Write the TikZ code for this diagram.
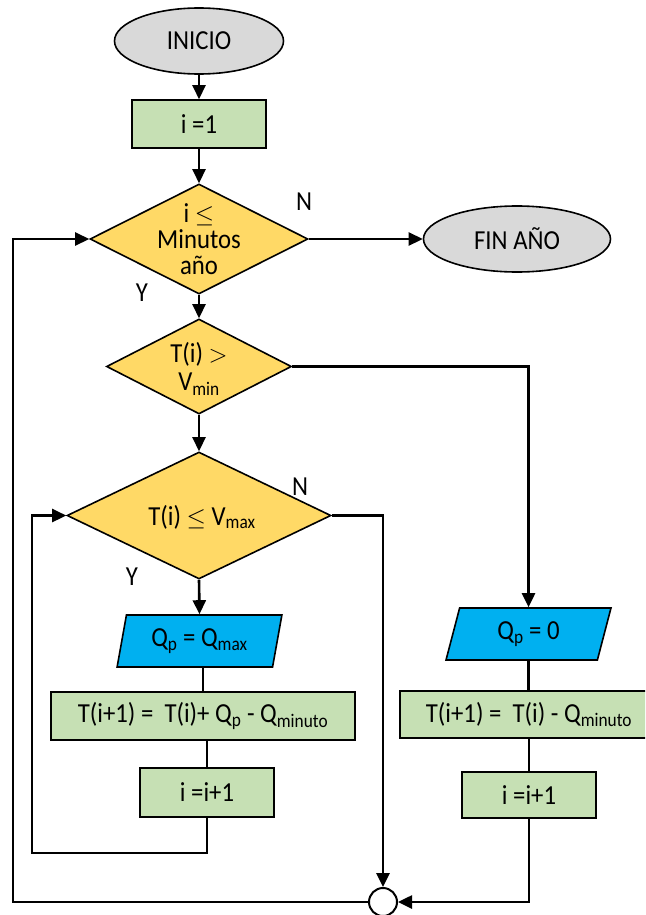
\documentclass[tikz,border=0pt]{standalone}
\usepackage{fontspec}
\setmainfont{Carlito}[FakeStretch=0.9]
\usetikzlibrary{shapes.geometric,arrows.meta}
\definecolor{termgray}{HTML}{D9D9D9}
\definecolor{procgreen}{HTML}{C6E0B4}
\definecolor{decgold}{HTML}{FFD966}
\definecolor{ioblue}{HTML}{00B0F0}
\begin{document}
\begin{tikzpicture}[x=1pt,y=-1pt,
  font=\fontsize{27.5}{27}\selectfont,
  shapeline/.style={draw=black, line width=1.6pt, inner sep=0pt},
  term/.style={shapeline, ellipse, fill=termgray},
  proc/.style={shapeline, rectangle, fill=procgreen},
  dec/.style={shapeline, diamond, fill=decgold},
  io/.style={shapeline, trapezium, trapezium left angle=76, trapezium right angle=104,
    trapezium stretches=true, fill=ioblue, minimum width=165pt, minimum height=52pt},
  txt/.style={align=center, inner sep=0pt},
  conn/.style={line width=2.6pt, draw=black},
  arr/.style={conn, -{Triangle[length=14pt,width=13pt]}},
  yn/.style={inner sep=0pt}]
\useasboundingbox (0,0) rectangle (645,915);
\clip (0,0) rectangle (645,915);
\fill[white] (0,0) rectangle (645,915);

% nodes
\node[term, minimum width=169pt, minimum height=66pt] (ini) at (199,41) {INICIO};
\node[proc, minimum width=134pt, minimum height=48pt] (set) at (199,124) {i =1};
\node[dec, minimum width=218pt, minimum height=110pt] (d1) at (199,239) {};
\node[txt, font=\fontsize{27.5}{26}\selectfont] (d1t) at (199,239) {i $\leq$\\Minutos\\año};
\node[term, minimum width=187pt, minimum height=66pt] (fin) at (517,239) {FIN AÑO};
\node[dec, minimum width=185pt, minimum height=95pt] (d2) at (199,366.5) {};
\node[txt, font=\fontsize{27.5}{28}\selectfont] (d2t) at (199,369) {T(i) $>$\\V\textsubscript{min}};
\node[dec, minimum width=264pt, minimum height=127pt] (d3) at (199,515.5) {};
\node[txt] (d3t) at (202,517) {T(i) $\leq$ V\textsubscript{max}};
\node[io] (qa) at (199.5,641) {Q\textsubscript{p} = Q\textsubscript{max}};
\node[io] (qb) at (528.5,634) {Q\textsubscript{p} = 0};
\node[proc, minimum width=304pt, minimum height=48pt] (ta) at (203,716)
  {T(i+1) =\ \ T(i)+ Q\textsubscript{p} - Q\textsubscript{minuto}};
\node[proc, minimum width=258pt, minimum height=47pt] (tb) at (529,714.5)
  {T(i+1) =\ \ T(i) - Q\textsubscript{minuto}};
\node[proc, minimum width=134pt, minimum height=49pt] (ia) at (207,792.5) {i =i+1};
\node[proc, minimum width=134pt, minimum height=46pt] (ib) at (529,795) {i =i+1};
\node[circle, draw=black, fill=white, line width=2pt, minimum size=28pt, inner sep=0pt] (jn) at (383,902) {};

% labels
\node[yn] (n1) at (304,202) {N};
\node[yn] (y1) at (142,293) {Y};
\node[yn] (n3) at (300,487) {N};
\node[yn] (y3) at (132,577) {Y};

% helper coordinates
\coordinate (innerlp) at (32,853);
\coordinate (outerlp) at (13,902);

% connectors
\draw[arr] (ini.south) -- (set.north);
\draw[arr] (set.south) -- (d1.north);
\draw[arr] (d1.east) -- (fin.west);
\draw[arr] (d1.south) -- (d2.north);
\draw[arr] (d2.south) -- (d3.north);
\draw[arr] (d3.south) -- (qa.north);
\draw[arr] (d2.east) -| (qb.north);
\draw[conn] (ta.north |- qa.south) -- (ta.north);
\draw[conn] (ia.north |- ta.south) -- (ia.north);
\draw[arr] (ia.south) |- (innerlp) |- (d3.west);
\draw[arr] (d3.east) -| (jn.north);
\draw[conn] (qb.south) -- (qb.south |- tb.north);
\draw[conn] (ib.north |- tb.south) -- (ib.north);
\draw[arr] (ib.south) |- (jn.east);
\draw[arr] (jn.west) -- (outerlp) |- (d1.west);
\end{tikzpicture}
\end{document}
